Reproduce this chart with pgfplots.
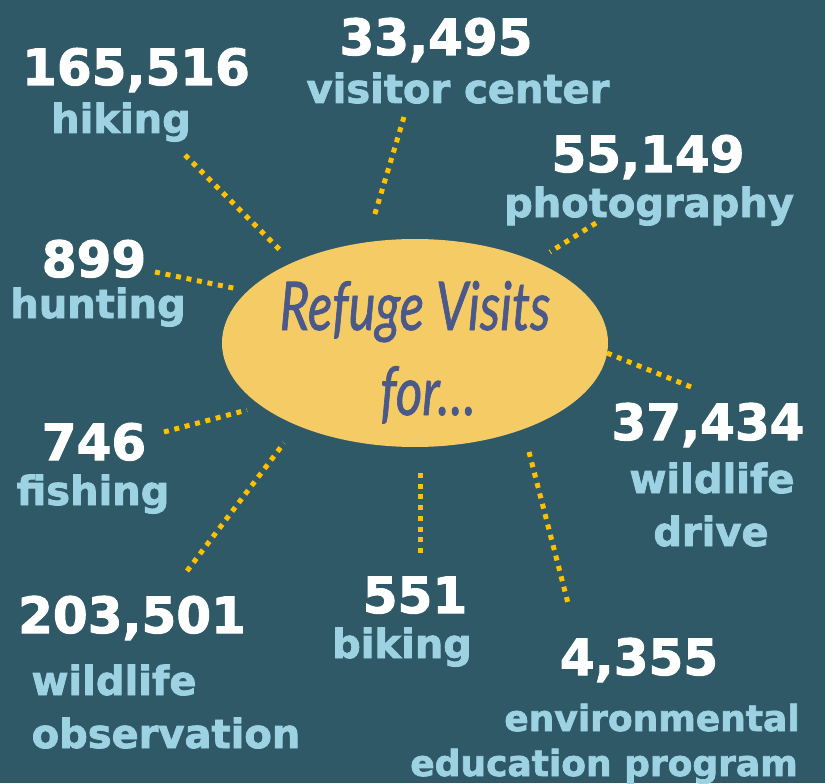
\documentclass[border=0pt]{standalone}
\usepackage{fontspec}
\setmainfont{DejaVu Sans}[BoldFeatures={FakeBold=2}]
\newfontfamily\scriptf{Lato}[ItalicFeatures={FakeBold=1.2}]
\usepackage{pgfplots}
\usepackage{pgfplotstable}
\pgfplotsset{compat=1.18}

\definecolor{bg}{RGB}{47,89,102}
\definecolor{ell}{RGB}{245,203,102}
\definecolor{dots}{RGB}{255,192,0}
\definecolor{lab}{RGB}{157,210,226}
\definecolor{ink}{RGB}{74,88,138}

% x y (pixel position of the number, baseline) and visits
\pgfplotstableread{
x   y   visits
136 85  165516
436 55  33495
648 172 55149
94  277 899
708 440 37434
94  460 746
132 633 203501
415 613 551
639 675 4355
}\visits

\tikzset{ray/.style={dots, line width=2.5pt, dash pattern=on 2.5pt off 2.85pt}}

\begin{document}
\begin{tikzpicture}
\begin{axis}[
  width=412.5pt, height=391.5pt, scale only axis,
  xmin=0, xmax=825, ymin=0, ymax=783, y dir=reverse,
  hide axis, clip=false,
]
\fill[bg] (axis cs:0,0) rectangle (axis cs:825,783);

% rays
\addplot[ray] coordinates {(185,155) (283,253)};
\addplot[ray] coordinates {(404,117) (374,217)};
\addplot[ray] coordinates {(596,223) (550,252)};
\addplot[ray] coordinates {(155,272) (238,289)};
\addplot[ray] coordinates {(607,353) (696,389)};
\addplot[ray] coordinates {(164,432) (247,410)};
\addplot[ray] coordinates {(187,571) (284,443)};
\addplot[ray] coordinates {(420,473) (420,557)};
\addplot[ray] coordinates {(529,452) (569,607)};

\fill[ell] (axis cs:415,343) ellipse [x radius=96.5pt, y radius=52pt];
\node[ink, font=\scriptf\itshape\fontsize{30}{36}\selectfont, anchor=base]
  at (axis cs:415,330) {\scalebox{0.85}[1.12]{Refuge Visits}};
\node[ink, font=\scriptf\itshape\fontsize{30}{36}\selectfont, anchor=base]
  at (axis cs:428,415) {\scalebox{0.85}[1.12]{for\dots}};

% numbers
\addplot[only marks, mark=none, point meta=explicit,
  nodes near coords={\pgfmathprintnumber[fixed, precision=0,
    1000 sep={,}, assume math mode=true]{\pgfplotspointmeta}},
  every node near coord/.append style={anchor=base, white, inner sep=0pt,
    font=\bfseries\fontsize{25}{30}\selectfont}]
  table[x=x, y=y, meta=visits] {\visits};

% labels
\begin{scope}[every node/.style={lab, anchor=base, inner sep=0pt,
    font=\bfseries\fontsize{20}{24}\selectfont}]
\node at (axis cs:121,133) {hiking};
\node at (axis cs:458,103) {visitor center};
\node at (axis cs:649,217) {photography};
\node at (axis cs:98,318) {hunting};
\node at (axis cs:712,493) {wildlife};
\node at (axis cs:711,546) {drive};
\node at (axis cs:93,505) {fishing};
\node at (axis cs:114,695) {wildlife};
\node at (axis cs:166,748) {observation};
\node at (axis cs:402,658) {biking};
\node[font=\bfseries\fontsize{18}{22}\selectfont] at (axis cs:652,731) {environmental};
\node[font=\bfseries\fontsize{18}{22}\selectfont] at (axis cs:604,776) {education program};
\end{scope}
\end{axis}
\end{tikzpicture}
\end{document}
